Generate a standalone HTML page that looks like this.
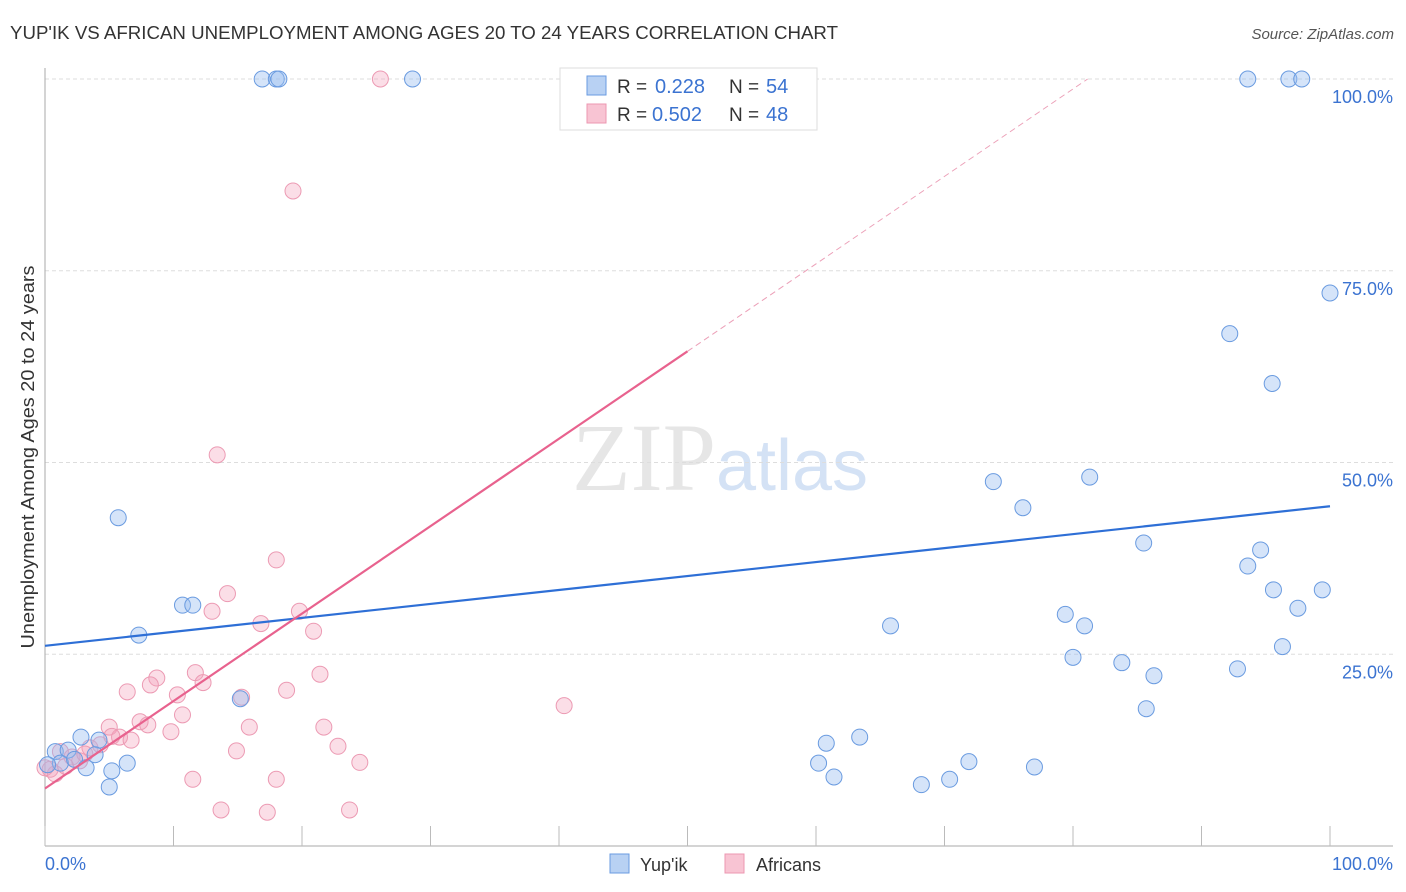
<!DOCTYPE html>
<html><head><meta charset="utf-8"><style>
body{margin:0;background:#fff;font-family:"Liberation Sans",sans-serif;}
svg{display:block}
</style></head><body>
<svg id="chart" width="1406" height="892" xmlns="http://www.w3.org/2000/svg">
<text x="10" y="39" font-size="18" fill="#333" textLength="828" lengthAdjust="spacingAndGlyphs">YUP'IK VS AFRICAN UNEMPLOYMENT AMONG AGES 20 TO 24 YEARS CORRELATION CHART</text>
<text x="1394" y="39" font-size="15" fill="#555" text-anchor="end" font-style="italic">Source: ZipAtlas.com</text>
<text x="720" y="490" font-size="96" text-anchor="middle" fill="#e6e6e6" font-family="Liberation Serif">ZIP<tspan fill="#d4e2f5" font-family="Liberation Sans" font-size="72">atlas</tspan></text>
<g id="grid"></g>
<line x1="45" y1="68" x2="45" y2="846" stroke="#aaa"/>
<line x1="45" y1="846" x2="1393" y2="846" stroke="#aaa"/>
<g id="ticks"></g>
<text transform="translate(34,457) rotate(-90)" font-size="18" fill="#333" text-anchor="middle" textLength="383" lengthAdjust="spacingAndGlyphs">Unemployment Among Ages 20 to 24 years</text>
<text x="45" y="870" font-size="18" fill="#3b73d1">0.0%</text>
<text x="1393" y="870" font-size="18" fill="#3b73d1" text-anchor="end">100.0%</text>
<g id="pts"></g>
<g id="lines"></g>
<g>
<rect x="560" y="68" width="257" height="62" fill="#fff" stroke="#ddd"/>
<rect x="587" y="76" width="19" height="19" fill="#b8d1f3" stroke="#6a9be0"/>
<rect x="587" y="104" width="19" height="19" fill="#f8c4d3" stroke="#ec97b1"/>
<text x="617" y="93" font-size="19" fill="#333">R =</text><text x="655" y="93" font-size="20" fill="#3b73d1">0.228</text>
<text x="729" y="93" font-size="19" fill="#333">N =</text><text x="766" y="93" font-size="20" fill="#3b73d1">54</text>
<text x="617" y="121" font-size="19" fill="#333">R =</text><text x="652" y="121" font-size="20" fill="#3b73d1">0.502</text>
<text x="729" y="121" font-size="19" fill="#333">N =</text><text x="766" y="121" font-size="20" fill="#3b73d1">48</text>
</g>
<g>
<rect x="610" y="854" width="19" height="19" fill="#b8d1f3" stroke="#6a9be0"/>
<text x="640" y="871" font-size="18" fill="#333">Yup'ik</text>
<rect x="725" y="854" width="19" height="19" fill="#f8c4d3" stroke="#ec97b1"/>
<text x="756" y="871" font-size="18" fill="#333">Africans</text>
</g>
</svg>
<script>
const yTicks=[25,50,75,100];
const xTicks=[0,10,20,30,40,50,60,70,80,90,100];
const blueX=[16.9,18,18.2,28.6,42.5,93.6,96.8,97.8,100,92.2,95.5,73.8,81.3,76.1,5.7,85.5,94.6,93.6,95.6,97.5,99.4,79.4,80.9,65.8,96.3,80,83.8,86.3,92.8,85.7,7.3,10.7,11.5,15.2,63.4,60.8,60.2,61.4,71.9,70.4,68.2,77,2.8,4.2,0.8,1.8,3.9,1.2,2.3,3.2,5.2,6.4,5,0.2];
const blueY=[100,100,100,100,100,100,100,100,72.1,66.8,60.3,47.5,48.1,44.1,42.8,39.5,38.6,36.5,33.4,31,33.4,30.2,28.7,28.7,26,24.6,23.9,22.2,23.1,17.9,27.5,31.4,31.4,19.2,14.2,13.4,10.8,9,11,8.7,8,10.3,14.2,13.8,12.3,12.5,11.9,10.8,11.3,10.2,9.8,10.8,7.7,10.6];
const pinkX=[26.1,19.3,13.4,18,14.2,13,19.8,16.8,20.9,8.7,8.2,11.7,12.3,6.4,10.3,21.4,18.8,15.3,10.7,7.4,5,8,9.8,15.9,21.7,5.8,6.7,14.9,22.8,24.5,40.4,11.5,18,13.7,17.3,23.7,3.5,4.3,1.2,2.1,0.4,0.8,2.7,1.6,0,3.1,5.2];
const pinkY=[100,85.4,51,37.3,32.9,30.6,30.6,29,28,21.9,21,22.6,21.3,20.1,19.7,22.4,20.3,19.4,17.1,16.2,15.5,15.8,14.9,15.5,15.5,14.2,13.8,12.4,13,10.9,18.3,8.7,8.7,4.7,4.4,4.7,12.8,13.2,12.3,11.6,10,9.4,11.1,10.4,10.2,12,14.3];
const blueLine=[26.1,44.3];
const pinkLine=[7.5,121.5];
const pinkSolidEnd=50;
const NS="http://www.w3.org/2000/svg";
const X=v=>45+v*12.85, Y=v=>846-v*7.67;
function mk(t,a,p){const e=document.createElementNS(NS,t);for(const k in a)e.setAttribute(k,a[k]);p.appendChild(e);return e;}
const grid=document.getElementById('grid'),ticks=document.getElementById('ticks');
yTicks.forEach(v=>{
 const l=mk('line',{x1:45,x2:1393,y1:Y(v),y2:Y(v),stroke:'#ddd','stroke-dasharray':'4,3'},grid);
 
 
 const t=mk('text',{x:1393,y:Y(v)+24,'font-size':18,fill:'#3b73d1','text-anchor':'end'},grid);
 t.textContent=v.toFixed(1)+'%';
 
 
});
xTicks.forEach(v=>{
 const l=mk('line',{x1:X(v),x2:X(v),y1:826,y2:846,stroke:'#bbb'},ticks);
 
 
});
const pts=document.getElementById('pts');
pinkX.forEach((x,i)=>{
 const c=mk('circle',{cx:X(x),cy:Y(pinkY[i]),r:8,fill:'rgba(244,160,185,0.35)',stroke:'#ec9ab3','stroke-width':1},pts);
 
 
});
blueX.forEach((x,i)=>{
 const c=mk('circle',{cx:X(x),cy:Y(blueY[i]),r:8,fill:'rgba(150,188,240,0.4)',stroke:'#6a9be0','stroke-width':1},pts);
 
 
});
const lines=document.getElementById('lines');
const pl=x=>pinkLine[0]+(pinkLine[1]-pinkLine[0])*x/100;
let a=mk('line',{x1:X(0),y1:Y(blueLine[0]),x2:X(100),y2:Y(blueLine[1]),stroke:'#2e6fd6','stroke-width':2.2},lines);


a=mk('line',{x1:X(0),y1:Y(pl(0)),x2:X(pinkSolidEnd),y2:Y(pl(pinkSolidEnd)),stroke:'#e8628e','stroke-width':2.2},lines);


const xe=(100-pinkLine[0])/(pinkLine[1]-pinkLine[0])*100;
a=mk('line',{x1:X(pinkSolidEnd),y1:Y(pl(pinkSolidEnd)),x2:X(xe),y2:Y(100),stroke:'#eca0b8','stroke-width':1,'stroke-dasharray':'6,4'},lines);


</script>
</body></html>
